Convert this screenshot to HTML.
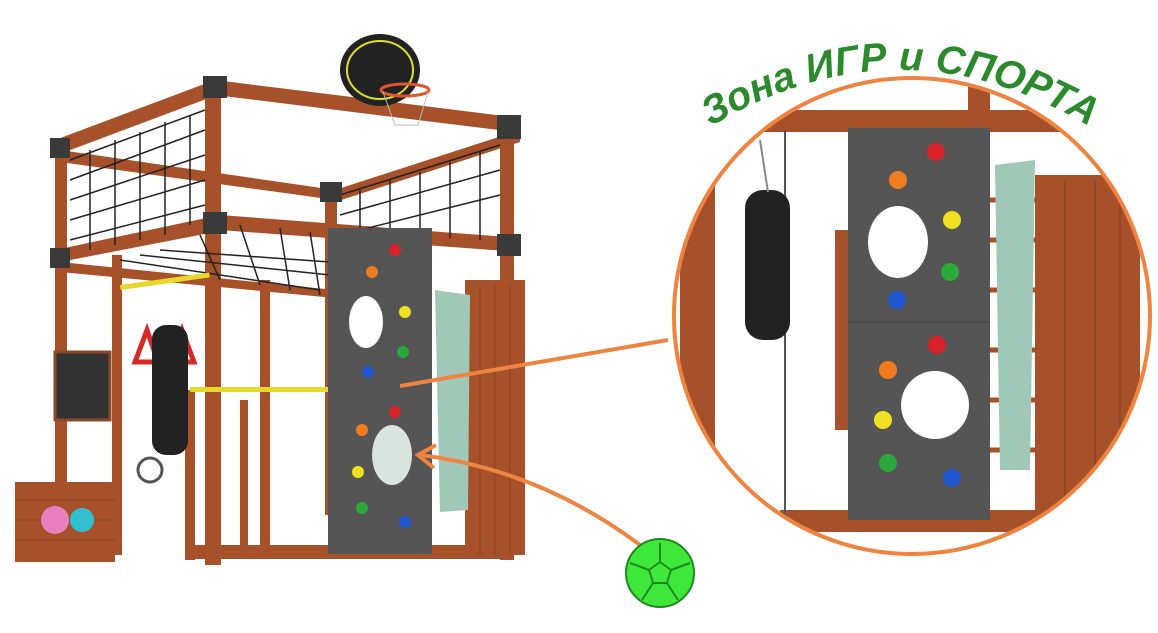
<!DOCTYPE html>
<html><head><meta charset="utf-8"><style>
html,body{margin:0;padding:0;background:#fff;width:1158px;height:633px;overflow:hidden}
</style></head><body>
<svg width="1158" height="633" viewBox="0 0 1158 633" xmlns="http://www.w3.org/2000/svg">
<defs>
<clipPath id="cc"><circle cx="912" cy="316" r="238"/></clipPath>
<path id="arc" d="M705,130 Q900,10 1095,130"/>
</defs>
<rect width="1158" height="633" fill="#fff"/>
<!-- LEFT STRUCTURE -->
<g fill="#a6512a">
<!-- posts -->
<rect x="55" y="140" width="12" height="420"/>
<rect x="205" y="85" width="16" height="480"/>
<rect x="325" y="185" width="12" height="330"/>
<rect x="500" y="120" width="14" height="440"/>
<rect x="112" y="255" width="10" height="300"/>
<rect x="260" y="280" width="10" height="270"/>
<!-- top beams -->
<polygon points="55,140 215,80 225,92 65,152"/>
<polygon points="215,80 520,118 515,132 215,95"/>
<polygon points="60,150 335,190 335,200 60,162"/>
<polygon points="335,190 520,130 520,142 335,202"/>
<!-- mid beams -->
<polygon points="55,250 220,215 225,230 60,262"/>
<polygon points="220,215 520,238 520,252 220,230"/>
<polygon points="60,262 335,290 335,298 60,272"/>
<rect x="190" y="545" width="320" height="14"/>
<rect x="185" y="390" width="10" height="170"/>
<rect x="240" y="400" width="8" height="150"/>
<rect x="465" y="280" width="60" height="275"/>
<rect x="15" y="482" width="100" height="80"/>
</g>
<g stroke="#7a3a1c" stroke-width="1" opacity=".6">
<line x1="480" y1="285" x2="480" y2="555"/><line x1="495" y1="285" x2="495" y2="555"/><line x1="510" y1="285" x2="510" y2="555"/>
<line x1="15" y1="500" x2="115" y2="500"/><line x1="15" y1="520" x2="115" y2="520"/><line x1="15" y1="540" x2="115" y2="540"/>
</g>
<!-- nets -->
<g stroke="#222" stroke-width="1.5" fill="none">
<path d="M70,160 L205,110 M70,180 L205,130 M70,200 L205,155 M70,220 L205,180 M70,240 L205,205"/>
<path d="M90,150 L90,250 M115,140 L115,245 M140,132 L140,240 M165,122 L165,235 M190,115 L190,225"/>
<path d="M340,195 L500,145 M340,215 L500,170 M340,235 L500,195 M360,190 L360,235 M390,180 L390,235 M420,172 L420,235 M450,162 L450,238 M480,152 L480,240"/>
<path d="M120,260 L320,290 M140,255 L330,275 M160,250 L330,262 M200,235 L220,280 M240,225 L260,285 M280,228 L290,290 M310,232 L320,295"/>
</g>
<!-- corner plates -->
<g fill="#3a3a3a">
<rect x="50" y="138" width="20" height="20"/><rect x="203" y="76" width="24" height="22"/><rect x="497" y="115" width="24" height="24"/>
<rect x="50" y="248" width="20" height="20"/><rect x="203" y="212" width="24" height="22"/><rect x="497" y="234" width="24" height="22"/><rect x="320" y="182" width="22" height="20"/>
</g>
<!-- basketball -->
<ellipse cx="380" cy="70" rx="40" ry="36" fill="#222"/>
<ellipse cx="380" cy="70" rx="33" ry="29" fill="none" stroke="#dede30" stroke-width="2"/>
<ellipse cx="405" cy="90" rx="24" ry="6" fill="none" stroke="#e0552a" stroke-width="3"/>
<path d="M383,92 L395,125 L418,125 L428,92" fill="none" stroke="#bbb" stroke-width="1"/>
<!-- yellow bars -->
<rect x="120" y="285" width="90" height="5" fill="#e8d82a" transform="rotate(-8 120 285)"/>
<rect x="190" y="387" width="140" height="5" fill="#e8d82a"/>
<!-- rings, bag -->
<path d="M135,362 L147,330 L158,362 Z M170,362 L182,330 L194,362 Z" fill="none" stroke="#d42a2a" stroke-width="5"/>
<rect x="152" y="325" width="36" height="130" rx="14" fill="#222"/>
<!-- chalkboard -->
<rect x="55" y="352" width="55" height="68" fill="#333" stroke="#8a4a25" stroke-width="3"/>
<circle cx="150" cy="470" r="12" fill="none" stroke="#555" stroke-width="3"/>
<circle cx="55" cy="520" r="14" fill="#e880c0"/><circle cx="82" cy="520" r="12" fill="#30c0d0"/>
<!-- towel -->
<path d="M435,290 L470,295 L468,510 L440,512 Z" fill="#9fc8b8"/>
<!-- climbing wall -->
<rect x="328" y="228" width="104" height="326" fill="#555"/>
<ellipse cx="366" cy="322" rx="17" ry="26" fill="#fff"/>
<ellipse cx="392" cy="455" rx="20" ry="30" fill="#d8e4e0"/>
<g>
<circle cx="395" cy="250" r="6" fill="#d8232a"/><circle cx="372" cy="272" r="6" fill="#f07c1e"/><circle cx="405" cy="312" r="6" fill="#f0e020"/>
<circle cx="403" cy="352" r="6" fill="#2aaa3a"/><circle cx="368" cy="372" r="6" fill="#2255d0"/><circle cx="395" cy="412" r="6" fill="#d8232a"/>
<circle cx="362" cy="430" r="6" fill="#f07c1e"/><circle cx="358" cy="472" r="6" fill="#f0e020"/><circle cx="362" cy="508" r="6" fill="#2aaa3a"/><circle cx="405" cy="522" r="6" fill="#2255d0"/>
</g>
<!-- connectors -->
<line x1="400" y1="386" x2="668" y2="340" stroke="#ee8440" stroke-width="4"/>
<path d="M640,545 Q540,470 420,455" fill="none" stroke="#ee8440" stroke-width="4"/>
<path d="M436,445 L418,455 L434,468" fill="none" stroke="#ee8440" stroke-width="4"/>
<!-- ball -->
<circle cx="660" cy="573" r="34" fill="#3ee83a" stroke="#1f8a1e" stroke-width="2"/>
<g fill="none" stroke="#1f8a1e" stroke-width="2">
<polygon points="660,562 671,570 667,583 653,583 649,570"/>
<path d="M660,562 L660,543 M671,570 L690,563 M667,583 L678,600 M653,583 L642,600 M649,570 L630,563"/>
</g>
<!-- CIRCLE ZOOM -->
<g clip-path="url(#cc)">
<rect x="670" y="75" width="490" height="485" fill="#fff"/>
<g fill="#a6512a">
<rect x="680" y="180" width="35" height="380"/>
<rect x="690" y="110" width="470" height="22"/>
<rect x="835" y="230" width="15" height="200"/>
<rect x="1035" y="175" width="105" height="390"/>
<rect x="780" y="510" width="380" height="22"/>
<rect x="968" y="75" width="22" height="100"/>
</g>
<g stroke="#7a3a1c" stroke-width="1.5" opacity=".6"><line x1="1065" y1="180" x2="1065" y2="560"/><line x1="1095" y1="180" x2="1095" y2="560"/><line x1="1120" y1="180" x2="1120" y2="560"/></g>
<g stroke="#a6512a" stroke-width="5"><line x1="990" y1="200" x2="1035" y2="200"/><line x1="990" y1="240" x2="1035" y2="240"/><line x1="990" y1="290" x2="1035" y2="290"/><line x1="990" y1="350" x2="1035" y2="350"/><line x1="990" y1="400" x2="1035" y2="400"/><line x1="990" y1="450" x2="1035" y2="450"/></g>
<path d="M995,165 L1035,160 L1030,470 L1000,470 Z" fill="#9fc8b8"/>
<line x1="785" y1="130" x2="785" y2="520" stroke="#555" stroke-width="2"/>
<rect x="745" y="190" width="45" height="150" rx="18" fill="#222"/>
<line x1="760" y1="140" x2="768" y2="192" stroke="#888" stroke-width="2"/>
<line x1="860" y1="240" x2="940" y2="240" stroke="#e8d82a" stroke-width="5"/>
<rect x="848" y="128" width="142" height="392" fill="#555"/>
<ellipse cx="898" cy="242" rx="30" ry="36" fill="#fff"/>
<ellipse cx="935" cy="405" rx="34" ry="34" fill="#fff"/>
<line x1="848" y1="322" x2="990" y2="322" stroke="#444"/>
<g>
<circle cx="936" cy="152" r="9" fill="#d8232a"/><circle cx="898" cy="180" r="9" fill="#f07c1e"/><circle cx="952" cy="220" r="9" fill="#f0e020"/>
<circle cx="950" cy="272" r="9" fill="#2aaa3a"/><circle cx="897" cy="300" r="9" fill="#2255d0"/><circle cx="937" cy="345" r="9" fill="#d8232a"/>
<circle cx="888" cy="370" r="9" fill="#f07c1e"/><circle cx="883" cy="420" r="9" fill="#f0e020"/><circle cx="888" cy="463" r="9" fill="#2aaa3a"/><circle cx="952" cy="478" r="9" fill="#2255d0"/>
</g>
</g>
<circle cx="912" cy="316" r="238" fill="none" stroke="#ee8440" stroke-width="4"/>
<text font-family="Liberation Sans, sans-serif" font-weight="bold" font-style="italic" font-size="40" fill="#2b8a2b" stroke="#fff" stroke-width="2" paint-order="stroke"><textPath href="#arc" startOffset="50%" text-anchor="middle">Зона ИГР и СПОРТА</textPath></text>
</svg>
</body></html>
